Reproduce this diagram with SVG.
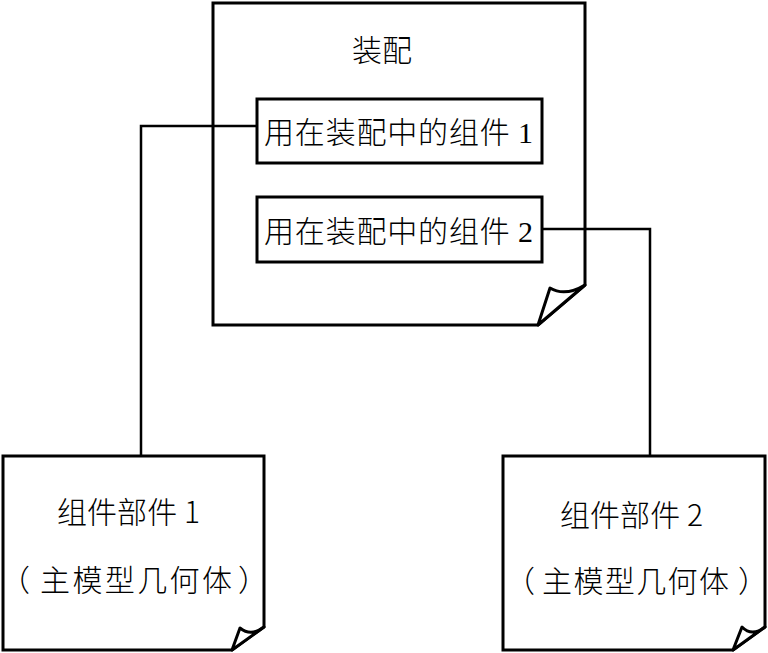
<svg xmlns="http://www.w3.org/2000/svg" width="768" height="653" viewBox="0 0 768 653">
<style>
.shape{fill:#fff;stroke:#000;stroke-width:3;stroke-linejoin:miter}
.fold{fill:#fff;stroke:#000;stroke-width:3;stroke-linejoin:round}
.conn{fill:none;stroke:#000;stroke-width:2.5}
.t{font-family:"Noto Sans CJK SC","Liberation Serif",sans-serif;font-size:30px;fill:#000;font-weight:300}
.n{font-family:"Liberation Serif",serif}
</style>
<rect width="768" height="653" fill="#fff"/>
<g id="assembly">
<path class="shape" d="M213,3 H585 V285 L538,325 H213 Z"/>
<path class="fold" d="M585,285 Q565,297 550,288 L538,325 Z"/>
<text class="t" x="382" y="61" text-anchor="middle">装配</text>
</g>
<g id="comp1">
<rect class="shape" x="257" y="99" width="285" height="64"/>
<text class="t" x="264" y="143" textLength="269" lengthAdjust="spacing">用在装配中的组件 <tspan class="n">1</tspan></text>
</g>
<g id="comp2">
<rect class="shape" x="257" y="197" width="285" height="65"/>
<text class="t" x="264" y="242" textLength="269" lengthAdjust="spacing">用在装配中的组件 <tspan class="n">2</tspan></text>
</g>
<g id="part1">
<path class="shape" d="M3,456 H264 V627 L232,650 H3 Z"/>
<path class="fold" d="M264,627 Q251,637 240,628 L232,650 Z"/>
<text class="t" x="57" y="523" textLength="143" lengthAdjust="spacing">组件部件 1</text>
<text class="t" y="591"><tspan x="0">（</tspan><tspan x="40" textLength="192" lengthAdjust="spacing">主模型几何体</tspan><tspan x="238">）</tspan></text>
</g>
<g id="part2">
<path class="shape" d="M503,456 H765 V627 L733,650 H503 Z"/>
<path class="fold" d="M765,627 Q752,637 742,627 L733,650 Z"/>
<text class="t" x="560" y="526" textLength="143" lengthAdjust="spacing">组件部件 2</text>
<text class="t" y="592"><tspan x="505">（</tspan><tspan x="542" textLength="187" lengthAdjust="spacing">主模型几何体</tspan><tspan x="738">）</tspan></text>
</g>
<g id="connectors">
<path class="conn" d="M257,126 H141 V456"/>
<path class="conn" d="M542,229 H650 V456"/>
</g>
</svg>
